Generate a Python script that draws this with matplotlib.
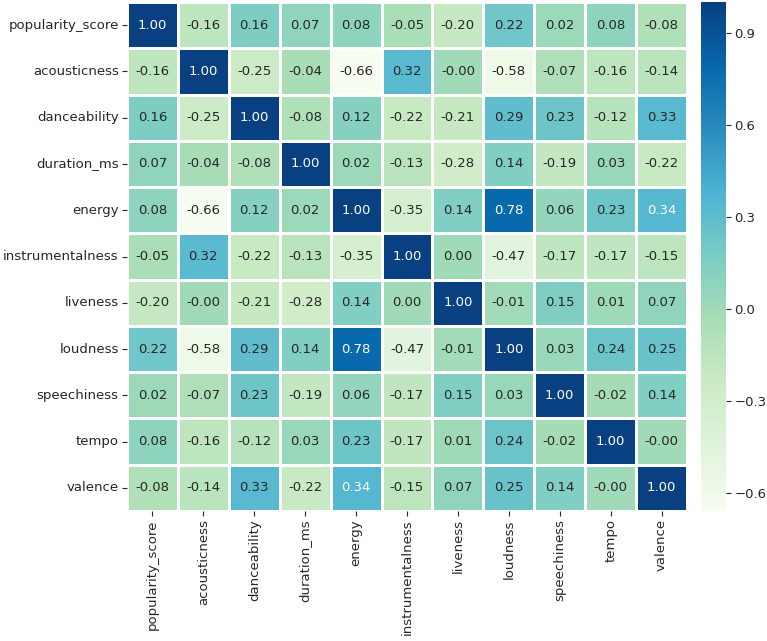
import numpy as np
import pandas as pd
import matplotlib
matplotlib.use('Agg')
import matplotlib.pyplot as plt
import seaborn as sns

features = ['popularity_score', 'acousticness', 'danceability', 'duration_ms',
            'energy', 'instrumentalness', 'liveness', 'loudness',
            'speechiness', 'tempo', 'valence']

# correlation values (-0.001 stands for the "-0.00" cells)
popularity_score = [1.00, -0.16, 0.16, 0.07, 0.08, -0.05, -0.20, 0.22, 0.02, 0.08, -0.08]
acousticness     = [-0.16, 1.00, -0.25, -0.04, -0.66, 0.32, -0.001, -0.58, -0.07, -0.16, -0.14]
danceability     = [0.16, -0.25, 1.00, -0.08, 0.12, -0.22, -0.21, 0.29, 0.23, -0.12, 0.33]
duration_ms      = [0.07, -0.04, -0.08, 1.00, 0.02, -0.13, -0.28, 0.14, -0.19, 0.03, -0.22]
energy           = [0.08, -0.66, 0.12, 0.02, 1.00, -0.35, 0.14, 0.78, 0.06, 0.23, 0.34]
instrumentalness = [-0.05, 0.32, -0.22, -0.13, -0.35, 1.00, 0.00, -0.47, -0.17, -0.17, -0.15]
liveness         = [-0.20, -0.001, -0.21, -0.28, 0.14, 0.00, 1.00, -0.01, 0.15, 0.01, 0.07]
loudness         = [0.22, -0.58, 0.29, 0.14, 0.78, -0.47, -0.01, 1.00, 0.03, 0.24, 0.25]
speechiness      = [0.02, -0.07, 0.23, -0.19, 0.06, -0.17, 0.15, 0.03, 1.00, -0.02, 0.14]
tempo            = [0.08, -0.16, -0.12, 0.03, 0.23, -0.17, 0.01, 0.24, -0.02, 1.00, -0.001]
valence          = [-0.08, -0.14, 0.33, -0.22, 0.34, -0.15, 0.07, 0.25, 0.14, -0.001, 1.00]

corr = pd.DataFrame([popularity_score, acousticness, danceability, duration_ms,
                     energy, instrumentalness, liveness, loudness,
                     speechiness, tempo, valence],
                    index=features, columns=features)

cbar_ticks = [-0.6, -0.3, 0.0, 0.3, 0.6, 0.9]
fs = 9.5

fig = plt.figure(figsize=(7.67, 6.41), dpi=100)
ax = fig.add_axes([127/767, 130/641, 560/767, 509/641])
cax = fig.add_axes([701/767, 130/641, 25/767, 509/641])

sns.heatmap(corr, ax=ax, cbar_ax=cax, cmap='GnBu', annot=True, fmt='.2f',
            linewidths=1.0, linecolor='white',
            annot_kws={'fontsize': fs},
            cbar_kws={'ticks': cbar_ticks})

ax.tick_params(axis='both', labelsize=fs, colors='#262626', pad=2.5)
ax.set_xticklabels(features, rotation=90)
ax.set_yticklabels(features, rotation=0)
cax.tick_params(labelsize=fs, colors='#262626', pad=2.5)
cax.set_yticklabels(['\u22120.6', '\u22120.3', '0.0', '0.3', '0.6', '0.9'])

fig.savefig('out.png', dpi=100)
